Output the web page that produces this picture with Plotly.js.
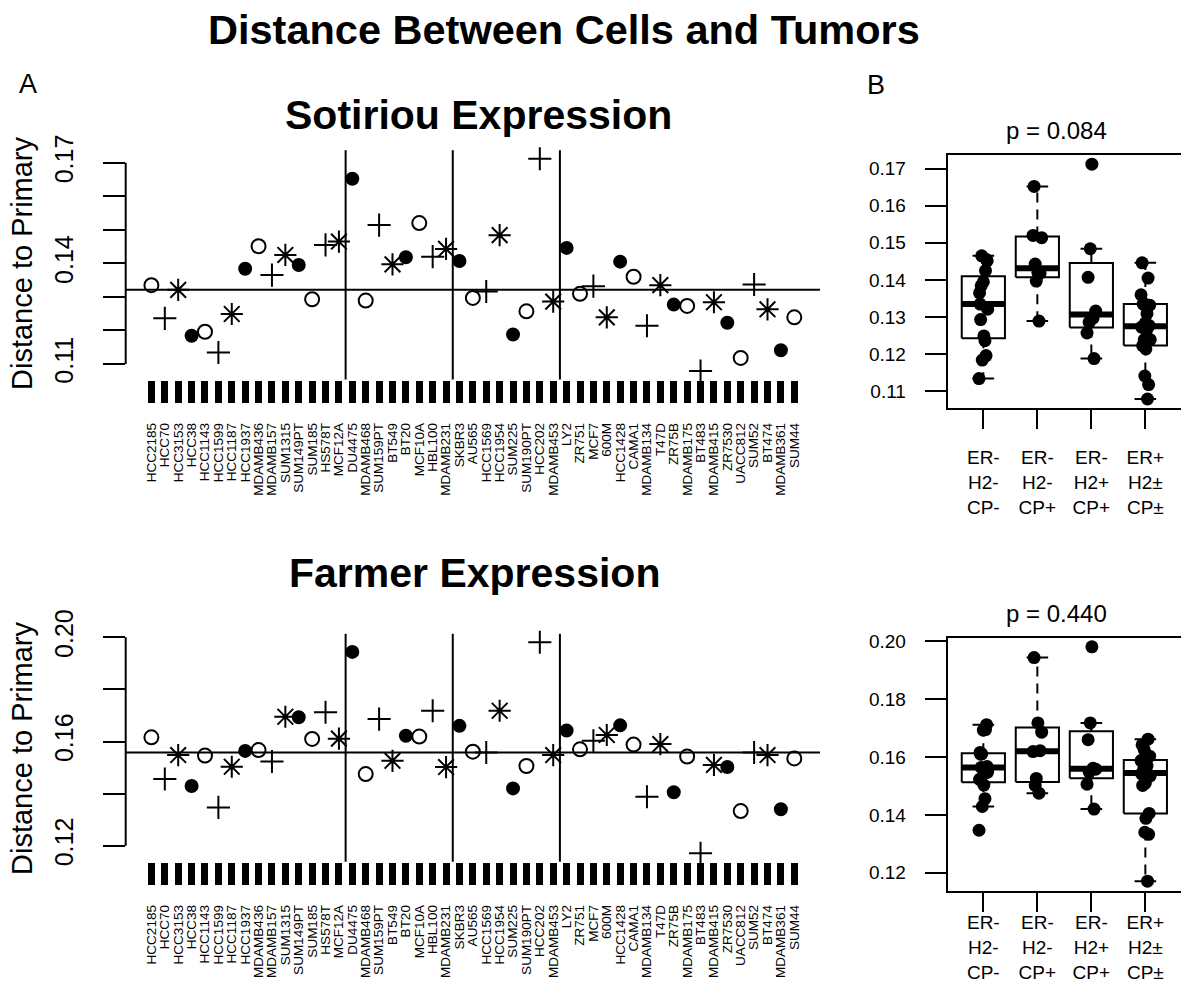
<!DOCTYPE html>
<html><head><meta charset="utf-8">
<script src="https://cdn.plot.ly/plotly-3.0.1.min.js"></script>
<style>html,body{margin:0;padding:0;background:#fff}</style>
</head><body><div id="chart" style="width:1181px;height:990px"></div>
<script>
// ---------------- data ----------------
const cellLines = ['HCC2185','HCC70','HCC3153','HCC38','HCC1143','HCC1599','HCC1187','HCC1937','MDAMB436','MDAMB157','SUM1315','SUM149PT','SUM185','HS578T','MCF12A',
  'DU4475','MDAMB468','SUM159PT','BT549','BT20','MCF10A','HBL100','MDAMB231',
  'SKBR3','AU565','HCC1569','HCC1954','SUM225','SUM190PT','HCC202','MDAMB453',
  'LY2','ZR751','MCF7','600M','HCC1428','CAMA1','MDAMB134','T47D','ZR75B','MDAMB175','BT483','MDAMB415','ZR7530','UACC812','SUM52','BT474','MDAMB361','SUM44'];
const groupSizes = [15, 8, 8, 18];
const groupLabels = ['ER-<br>H2-<br>CP-', 'ER-<br>H2-<br>CP+', 'ER-<br>H2+<br>CP+', 'ER+<br>H2±<br>CP±'];
const sotiriou = [0.1335,0.1236,0.1321,0.1184,0.1196,0.1134,0.1249,0.1384,0.1451,0.1365,0.1425,0.1395,0.1293,0.1455,0.1465,
  0.1652,0.1289,0.1514,0.1397,0.1418,0.1520,0.1420,0.1443,
  0.1407,0.1297,0.1316,0.1484,0.1188,0.1257,0.1712,0.1286,
  0.1446,0.1309,0.1332,0.1239,0.1405,0.1360,0.1214,0.1335,0.1277,0.1273,0.1079,0.1284,0.1223,0.1118,0.1337,0.1263,0.1141,0.1239];
const farmer = [0.1616,0.1456,0.1548,0.1429,0.1546,0.1347,0.1503,0.1564,0.1567,0.1523,0.1695,0.1693,0.1610,0.1712,0.1611,
  0.1944,0.1475,0.1686,0.1526,0.1622,0.1619,0.1718,0.1502,
  0.1660,0.1561,0.1558,0.1718,0.1420,0.1506,0.1981,0.1548,
  0.1642,0.1570,0.1603,0.1625,0.1662,0.1588,0.1388,0.1590,0.1405,0.1542,0.1171,0.1510,0.1502,0.1333,0.1558,0.1548,0.1340,0.1535];
const yTicksSot = [0.11,0.12,0.13,0.14,0.15,0.16,0.17];
const yTextSotLeft = ['0.11','','','0.14','','','0.17'];
const yTextSotBox = ['0.11','0.12','0.13','0.14','0.15','0.16','0.17'];
const yTicksFar = [0.12,0.14,0.16,0.18,0.20];
const yTextFarLeft = ['0.12','','0.16','','0.20'];
const yTextFarBox = ['0.12','0.14','0.16','0.18','0.20'];
const pSot = 'p = 0.084';
const pFar = 'p = 0.440';
const mainTitle = 'Distance Between Cells and Tumors';
const titleSot = 'Sotiriou Expression';
const titleFar = 'Farmer Expression';
const yTitle = 'Distance to Primary';

// ---------------- styles ----------------
const W = 1181, H = 990;
const FONT = 'Liberation Sans, Arial, Helvetica, sans-serif';
const symbolCycle = ['circle-open', 'cross-thin', 'asterisk', 'circle'];
const sizeCycle = [14, 16.5, 18.5, 12];
const jitterPattern = [-0.06, 0.03, 0.08, -0.02, 0.05, -0.08, 0.01, -0.04, 0.07, -0.07, 0.04, 0.0, -0.05, 0.06, -0.03, 0.02, -0.01, 0.09];

const px = v => v / W;
const py = v => 1 - v / H;
const dom = (a, b) => [1 - b / H, 1 - a / H];

function paddedRange(vals) {
  const lo = Math.min(...vals), hi = Math.max(...vals), p = 0.04 * (hi - lo);
  return [lo - p, hi + p];
}
function median(v) {
  const s = [...v].sort((a, b) => a - b), n = s.length;
  return n % 2 ? s[(n - 1) / 2] : 0.5 * (s[n / 2 - 1] + s[n / 2]);
}
function fivenum(v) {
  const x = [...v].sort((a, b) => a - b), n = x.length;
  const n4 = Math.floor((n + 3) / 2) / 2;
  const d = [1, n4, (n + 1) / 2, n + 1 - n4, n];
  return d.map(k => 0.5 * (x[Math.floor(k) - 1] + x[Math.ceil(k) - 1]));
}
function boxStats(v) {
  const st = fivenum(v);
  const iqr = st[3] - st[1];
  const lo = st[1] - 1.5 * iqr, hi = st[3] + 1.5 * iqr;
  const inside = v.filter(a => a >= lo && a <= hi);
  return { lw: Math.min(...inside), q1: st[1], med: st[2], q3: st[3], uw: Math.max(...inside) };
}
function splitGroups(vals) {
  const out = []; let s = 0;
  groupSizes.forEach(g => { out.push(vals.slice(s, s + g)); s += g; });
  return out;
}

const n = cellLines.length;
const xIdx = cellLines.map((_, i) => i + 1);
const xRange = [1 - 0.04 * (n - 1), n + 0.04 * (n - 1)];
const symbols = xIdx.map((_, i) => symbolCycle[i % 4]);
const sizes = xIdx.map((_, i) => sizeCycle[i % 4]);

const traces = [];
const shapes = [];

function leftPanel(vals, xa, ya) {
  traces.push({
    type: 'scatter', mode: 'markers', x: xIdx, y: vals, xaxis: xa, yaxis: ya,
    cliponaxis: false, hoverinfo: 'x+y',
    marker: { symbol: symbols, size: sizes, color: 'black', opacity: 1, line: { color: 'black', width: 2 } }
  });
  const m = median(vals);
  shapes.push({ type: 'line', xref: xa + ' domain', yref: ya, x0: 0, x1: 1, y0: m, y1: m,
    line: { color: 'black', width: 2 }, layer: 'below' });
  let c = 0;
  groupSizes.slice(0, -1).forEach(g => {
    c += g;
    shapes.push({ type: 'line', xref: xa, yref: ya + ' domain', x0: c + 0.5, x1: c + 0.5, y0: 0, y1: 1,
      line: { color: 'black', width: 2 }, layer: 'below' });
  });
}

function boxPanel(vals, xa, ya) {
  const groups = splitGroups(vals);
  groups.forEach((g, gi) => {
    const c = gi + 1, b = boxStats(g);
    const line = (x, y, w, dash) => traces.push({ type: 'scatter', mode: 'lines', x, y, xaxis: xa, yaxis: ya,
      hoverinfo: 'skip', line: { color: 'black', width: w, dash: dash || 'solid' } });
    line([c - 0.4, c + 0.4, c + 0.4, c - 0.4, c - 0.4], [b.q1, b.q1, b.q3, b.q3, b.q1], 2);
    line([c - 0.4, c + 0.4], [b.med, b.med], 6);
    line([c, c], [b.q3, b.uw], 2, '10px,7px');
    line([c, c], [b.q1, b.lw], 2, '10px,7px');
    line([c - 0.2, c + 0.2], [b.uw, b.uw], 2);
    line([c - 0.2, c + 0.2], [b.lw, b.lw], 2);
    traces.push({ type: 'scatter', mode: 'markers', xaxis: xa, yaxis: ya, cliponaxis: false,
      x: g.map((_, i) => c + jitterPattern[i % jitterPattern.length]), y: g,
      marker: { color: 'black', size: 13, opacity: 1 }, hoverinfo: 'y' });
  });
}

leftPanel(sotiriou, 'x', 'y');
leftPanel(farmer, 'x2', 'y2');
boxPanel(sotiriou, 'x3', 'y3');
boxPanel(farmer, 'x4', 'y4');

// y axis lines spanning tick range (R style)
shapes.push({ type: 'line', xref: 'x domain', yref: 'y', x0: 0, x1: 0, y0: yTicksSot[0], y1: yTicksSot[yTicksSot.length - 1], line: { color: 'black', width: 2 } });
shapes.push({ type: 'line', xref: 'x2 domain', yref: 'y2', x0: 0, x1: 0, y0: yTicksFar[0], y1: yTicksFar[yTicksFar.length - 1], line: { color: 'black', width: 2 } });

const rSot = paddedRange(sotiriou), rFar = paddedRange(farmer);

const baseAx = { showgrid: false, zeroline: false, ticks: 'outside', tickcolor: 'black', color: 'black', fixedrange: true };
const leftX = (anchor) => Object.assign({}, baseAx, {
  domain: [px(125.7), px(820)], range: xRange, anchor, tickmode: 'array', tickvals: xIdx, ticktext: cellLines,
  tickangle: -90, ticklen: 22, tickwidth: 7, showline: false, tickfont: { family: FONT, size: 13.5, color: 'black' },
  ticklabelstandoff: 15
});
const leftY = (domain, range, tv, tt, anchor) => Object.assign({}, baseAx, {
  domain, range, anchor, tickmode: 'array', tickvals: tv, ticktext: tt, tickangle: -90, ticklen: 22, tickwidth: 2,
  showline: false, tickfont: { family: FONT, size: 25, color: 'black' }, ticklabelstandoff: 20
});
const boxX = (anchor, standoff) => Object.assign({}, baseAx, {
  domain: [px(947.7), 1], range: [0.34, 4.66], anchor, tickmode: 'array', tickvals: [1, 2, 3, 4], ticktext: groupLabels,
  ticklen: 19, tickwidth: 2, showline: true, mirror: true, linewidth: 2, linecolor: 'black',
  tickfont: { family: FONT, size: 19, color: 'black' }, ticklabelstandoff: standoff
});
const boxY = (domain, range, tv, tt, anchor) => Object.assign({}, baseAx, {
  domain, range, anchor, tickmode: 'array', tickvals: tv, ticktext: tt, ticklen: 21, tickwidth: 2,
  showline: true, mirror: true, linewidth: 2, linecolor: 'black',
  tickfont: { family: FONT, size: 19, color: 'black' }, ticklabelstandoff: 15
});

const ann = (text, x, y, size, extra) => Object.assign({ text, x: px(x), y: py(y), xref: 'paper', yref: 'paper',
  showarrow: false, xanchor: 'center', yanchor: 'middle', font: { family: FONT, size, color: 'black' } }, extra || {});

const layout = {
  width: W, height: H, margin: { l: 0, r: 0, t: 0, b: 0 }, paper_bgcolor: 'white', plot_bgcolor: 'rgba(0,0,0,0)',
  showlegend: false, font: { family: FONT, color: 'black' },
  xaxis: leftX('y'),
  yaxis: leftY(dom(150.2, 379.5), rSot, yTicksSot, yTextSotLeft, 'x'),
  xaxis2: leftX('y2'),
  yaxis2: leftY(dom(633.8, 861.7), rFar, yTicksFar, yTextFarLeft, 'x2'),
  xaxis3: boxX('y3', 12),
  yaxis3: boxY(dom(154.8, 408.4), rSot, yTicksSot, yTextSotBox, 'x3'),
  xaxis4: boxX('y4', -5),
  yaxis4: boxY(dom(637.5, 890.5), rFar, yTicksFar, yTextFarBox, 'x4'),
  shapes,
  annotations: [
    ann('<b>' + mainTitle + '</b>', 564, 30, 41.5),
    ann('A', 28, 84, 27),
    ann('B', 876, 85, 27),
    ann('<b>' + titleSot + '</b>', 478, 115, 41),
    ann('<b>' + titleFar + '</b>', 474, 573, 41),
    ann(pSot, 1056, 131, 24),
    ann(pFar, 1056, 613, 24),
    ann(yTitle, 22, 263, 29, { textangle: -90 }),
    ann(yTitle, 22, 748, 29, { textangle: -90 })
  ]
};
Plotly.newPlot('chart', traces, layout, { displayModeBar: false, staticPlot: true });
</script></body></html>
